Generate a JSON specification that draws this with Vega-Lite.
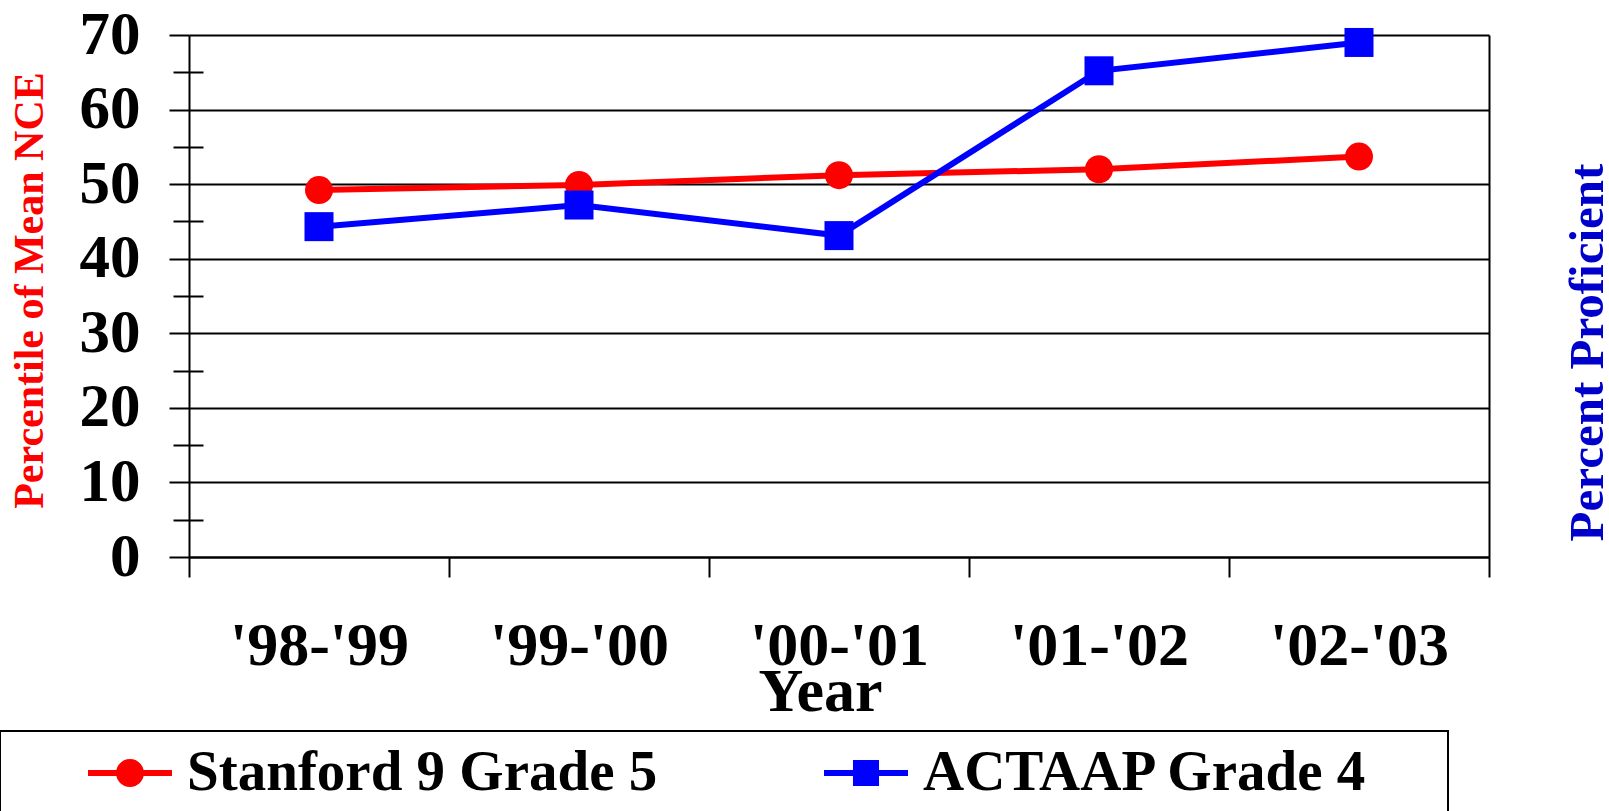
{
  "$schema": "https://vega.github.io/schema/vega-lite/v6.json",
  "width": 1300,
  "height": 522,
  "autosize": "none",
  "padding": {"left": 189, "top": 35, "right": 120, "bottom": 254},
  "background": "white",
  "config": {
    "view": {"stroke": null},
    "font": "Liberation Serif",
    "legend": {"strokeWidth": 2}
  },
  "data": {
    "values": [
      {"year": "'98-'99", "series": "Stanford 9 Grade 5", "value": 49.2},
      {"year": "'99-'00", "series": "Stanford 9 Grade 5", "value": 49.9},
      {"year": "'00-'01", "series": "Stanford 9 Grade 5", "value": 51.2},
      {"year": "'01-'02", "series": "Stanford 9 Grade 5", "value": 52.0},
      {"year": "'02-'03", "series": "Stanford 9 Grade 5", "value": 53.7},
      {"year": "'98-'99", "series": "ACTAAP Grade 4", "value": 44.3},
      {"year": "'99-'00", "series": "ACTAAP Grade 4", "value": 47.2},
      {"year": "'00-'01", "series": "ACTAAP Grade 4", "value": 43.1},
      {"year": "'01-'02", "series": "ACTAAP Grade 4", "value": 65.2},
      {"year": "'02-'03", "series": "ACTAAP Grade 4", "value": 69.0}
    ]
  },
  "encoding": {
    "x": {
      "field": "year",
      "type": "ordinal",
      "sort": null,
      "scale": {"type": "band", "paddingInner": 0, "paddingOuter": 0},
      "axis": {
        "tickBand": "extent",
        "domain": true,
        "domainColor": "black",
        "domainWidth": 2,
        "ticks": true,
        "tickColor": "black",
        "tickSize": 20,
        "tickWidth": 2,
        "grid": false,
        "labelAngle": 0,
        "labelFont": "Liberation Serif",
        "labelFontSize": 62,
        "labelFontWeight": "bold",
        "labelColor": "black",
        "labelPadding": 38,
        "labelLimit": 0,
        "title": "Year",
        "titleFont": "Liberation Serif",
        "titleFontSize": 62,
        "titleFontWeight": "bold",
        "titleColor": "black",
        "titleX": 631,
        "titleY": 153,
        "titleAlign": "center",
        "titleBaseline": "alphabetic"
      }
    }
  },
  "layer": [
    {
      "transform": [{"filter": "datum.series === 'Stanford 9 Grade 5'"}],
      "mark": {"type": "line", "strokeWidth": 6, "color": "#FF0000",
               "point": {"shape": "circle", "filled": true, "size": 784, "color": "#FF0000", "opacity": 1}},
      "encoding": {
        "y": {
          "field": "value",
          "type": "quantitative",
          "scale": {"domain": [0, 70], "nice": false, "zero": true},
          "axis": {
            "orient": "left",
            "values": [0, 10, 20, 30, 40, 50, 60, 70],
            "domain": true,
            "domainColor": "black",
            "domainWidth": 2,
            "grid": true,
            "gridColor": "black",
            "gridWidth": 2,
            "ticks": true,
            "tickColor": "black",
            "tickSize": 20,
            "tickWidth": 2,
            "labelFont": "Liberation Serif",
            "labelFontSize": 61,
            "labelFontWeight": "bold",
            "labelColor": "black",
            "labelPadding": 29,
            "title": "Percentile of Mean NCE",
            "titleFont": "Liberation Serif",
            "titleFontSize": 42,
            "titleFontWeight": "bold",
            "titleColor": "#FF0000",
            "titleAngle": 270,
            "titleBaseline": "middle",
            "titleAlign": "center",
            "titleX": -160,
            "titleY": 255
          }
        }
      }
    },
    {
      "transform": [{"filter": "datum.series === 'ACTAAP Grade 4'"}],
      "mark": {"type": "line", "strokeWidth": 6, "color": "#0000FF",
               "point": {"shape": "square", "filled": true, "size": 841, "color": "#0000FF", "opacity": 1}},
      "encoding": {
        "y": {
          "field": "value",
          "type": "quantitative",
          "scale": {"domain": [0, 70], "nice": false, "zero": true},
          "axis": {
            "orient": "right",
            "domain": true,
            "domainColor": "black",
            "domainWidth": 2,
            "grid": false,
            "ticks": false,
            "labels": false,
            "title": "Percent Proficient",
            "titleFont": "Liberation Serif",
            "titleFontSize": 49,
            "titleFontWeight": "bold",
            "titleColor": "#0000CC",
            "titleAngle": 270,
            "titleBaseline": "middle",
            "titleAlign": "center",
            "titleX": 98,
            "titleY": 317
          }
        }
      }
    },
    {
      "mark": {"type": "point", "filled": true, "size": 0, "opacity": 1},
      "encoding": {
        "y": {
          "field": "value",
          "type": "quantitative",
          "scale": {"domain": [0, 70], "nice": false, "zero": true},
          "axis": {
            "orient": "left",
            "values": [5, 15, 25, 35, 45, 55, 65],
            "offset": -14,
            "domain": false,
            "grid": false,
            "ticks": true,
            "tickColor": "black",
            "tickSize": 30,
            "tickWidth": 2,
            "labels": false,
            "title": null
          }
        },
        "color": {
          "field": "series",
          "type": "nominal",
          "scale": {"domain": ["Stanford 9 Grade 5", "ACTAAP Grade 4"], "range": ["#FF0000", "#0000FF"]},
          "legend": {
            "orient": "none",
            "legendX": -189,
            "legendY": 696,
            "direction": "horizontal",
            "columns": 2,
            "padding": 0,
            "strokeColor": "black",
            "fillColor": "white",
            "symbolSize": 7056,
            "symbolOffset": 88,
            "symbolOpacity": 1,
            "symbolStrokeWidth": 0,
            "labelOffset": 15,
            "columnPadding": 78,
            "labelFont": "Liberation Serif",
            "labelFontSize": 57,
            "labelFontWeight": "bold",
            "labelColor": "black",
            "labelLimit": 1000,
            "title": " ",
            "titleOrient": "right",
            "titleFontSize": 100,
            "titlePadding": 80
          }
        },
        "shape": {
          "field": "series",
          "type": "nominal",
          "scale": {
            "domain": ["Stanford 9 Grade 5", "ACTAAP Grade 4"],
            "range": [
              "M-1,-0.07L1,-0.07L1,0.07L-1,0.07Z M-0.333,0A0.333,0.333,0,1,1,0.333,0A0.333,0.333,0,1,1,-0.333,0Z",
              "M-1,-0.07L1,-0.07L1,0.07L-1,0.07Z M-0.31,-0.31L0.31,-0.31L0.31,0.31L-0.31,0.31Z"
            ]
          }
        }
      }
    }
  ],
  "resolve": {"axis": {"y": "independent"}}
}
